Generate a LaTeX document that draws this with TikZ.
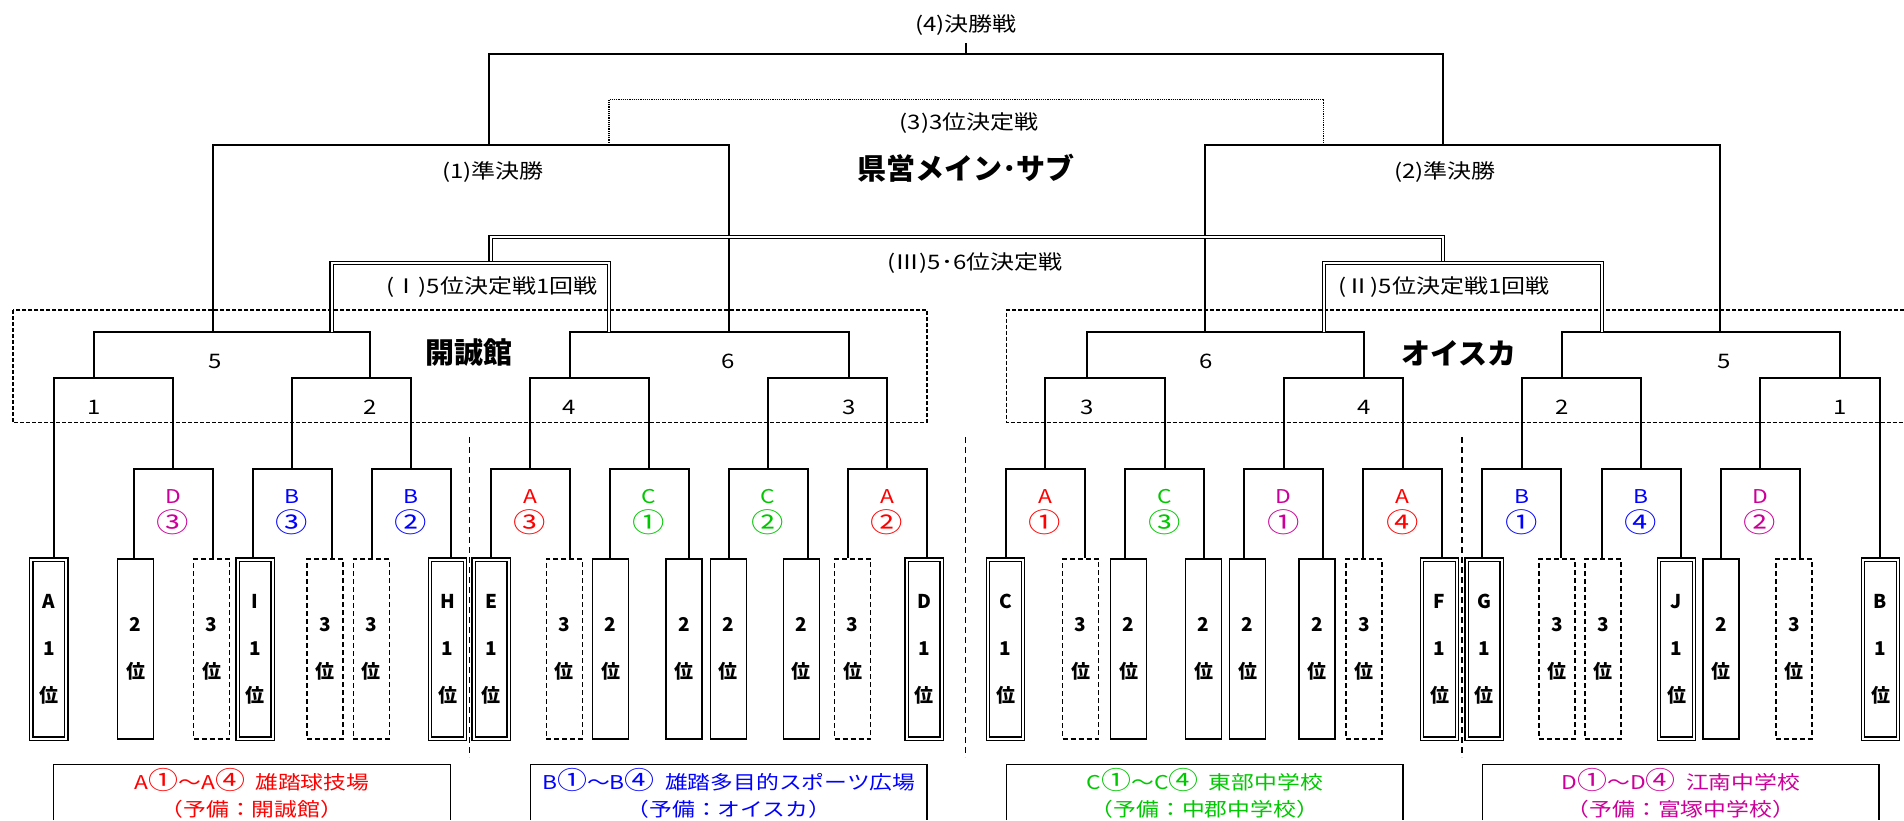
\documentclass[tikz,border=0pt]{standalone}
\usepackage{fontspec}
\usepackage{tikz}
\newfontfamily\jp[FakeStretch=1.2]{Noto Sans CJK JP}
\newfontfamily\jpbox{Noto Sans CJK JP}
\newcommand{\bigc}[1]{{\fontsize{13.5}{14.5}\selectfont#1}}
\newcommand{\midc}[1]{{\fontsize{12.5}{13.3}\selectfont#1}}
\definecolor{jred}{RGB}{255,0,0}
\definecolor{jblue}{RGB}{0,0,255}
\definecolor{jgreen}{RGB}{0,200,0}
\definecolor{jmag}{RGB}{204,0,153}

\begin{document}
\begin{tikzpicture}[x=0.5pt,y=-0.5pt]
\tikzstyle{br}=[line width=1pt]
\tikzstyle{dbl}=[double,double distance=1pt,line width=0.6pt]
\tikzstyle{venue}=[line width=0.75pt,dash pattern=on 2pt off 1pt]
\tikzstyle{sepline}=[line width=0.55pt,dash pattern=on 3pt off 2pt]
\tikzstyle{boxtxt}=[inner sep=0pt,minimum width=18pt,minimum height=90pt,align=center,font=\jpbox\bfseries\fontsize{9.5}{23.5}\selectfont]
\tikzstyle{seedbox}=[boxtxt,draw,double,double distance=1pt,line width=0.65pt,minimum width=17.5pt,minimum height=89.5pt]
\tikzstyle{runnerbox}=[boxtxt,draw,line width=0.9pt]
\tikzstyle{thirdbox}=[boxtxt,draw,line width=0.8pt,dash pattern=on 2.5pt off 1.5pt]
\tikzstyle{lbl}=[inner sep=0pt,font=\jp\fontsize{10}{12}\selectfont]
\tikzstyle{slotlbl}=[inner sep=0pt,align=center,font=\jp\fontsize{9.5}{14.5}\selectfont]
\tikzstyle{venuelbl}=[inner sep=0pt,font=\jpbox\bfseries\fontsize{14.5}{16}\selectfont]
\tikzstyle{note}=[inner sep=0pt,align=center,font=\jp\fontsize{9.5}{13.3}\selectfont]

\fill[white] (0,0) rectangle (1904,820);
\useasboundingbox (0,0) rectangle (1904,820);

% boxes: 1st, 2nd and 3rd of each block
\foreach \n/\cx/\tx in {1/48.8/A, 4/255/I, 7/447.5/H, 8/491/E, 15/924.1/D, 16/1005.5/C, 23/1439.5/F, 24/1484/G, 27/1676.5/J, 30/1880.5/B}
  \node[seedbox] (b\n) at (\cx,649) {\tx\\1\\位};
\foreach \n/\cx in {2/135.5, 10/610.5, 11/684, 12/728.4, 13/801.4, 18/1128.5, 19/1203.5, 20/1247.5, 21/1317.2, 28/1721.3}
  \node[runnerbox] (b\n) at (\cx,649) {2\\位};
\foreach \n/\cx in {3/211.5, 5/325, 6/371.3, 9/564.4, 14/852.5, 17/1080.5, 22/1364, 25/1556.8, 26/1602.9, 29/1793.9}
  \node[thirdbox] (b\n) at (\cx,649) {3\\位};

% first games between boxes
\foreach \c/\l/\r/\t/\k/\col [count=\i] in {173/2/3/D/③/jmag, 292/4/5/B/③/jblue, 411/6/7/B/②/jblue, 530/8/9/A/③/jred, 649/10/11/C/①/jgreen, 768/12/13/C/②/jgreen, 887/14/15/A/②/jred, 1045/16/17/A/①/jred, 1164.5/18/19/C/③/jgreen, 1283.5/20/21/D/①/jmag, 1402.5/22/23/A/④/jred, 1521.5/24/25/B/①/jblue, 1641/26/27/B/④/jblue, 1760/28/29/D/②/jmag}
{
  \coordinate (s\i) at (\c,469);
  \coordinate (sl\i) at (\c-39.5,469);
  \coordinate (sr\i) at (\c+39.5,469);
  \draw[br] (b\l.north -| sl\i) -- (sl\i) -- (sr\i) -- (b\r.north -| sr\i);
  \node[slotlbl,text=\col] (t\i) at (\c,512) {\t\\\bigc{\k}};
}

% round 1
\foreach \a/\b/\p/\t/\la/\lb [count=\i] in {54/173/94/1/b1.north/s1, 292/411/370/2/s2/s3, 530/649/569.5/4/s4/s5, 768/887/849/3/s6/s7, 1045/1164.5/1087/3/s8/s9, 1283.5/1402.5/1364/4/s10/s11, 1521.5/1641/1562/2/s12/s13, 1760/1880/1840/1/s14/b30.north}
{
  \coordinate (ma\i) at (\a,377.7);
  \coordinate (mb\i) at (\b,377.7);
  \coordinate (mp\i) at (\p,377.7);
  \draw[br] (ma\i |- \la) -- (ma\i) -- (mb\i) -- (mb\i |- \lb);
  \node[lbl] (m\i) at (\p,407) {\t};
}

% round 2
\foreach \a/\b/\lx/\t/\j/\k [count=\i] in {94/370/215/5/1/2, 569.5/849/728/6/3/4, 1087/1364/1206/6/5/6, 1562/1840/1724/5/7/8}
{
  \coordinate (ra\i) at (\a,332.3);
  \coordinate (rb\i) at (\b,332.3);
  \draw[br] (mp\j) -- (ra\i) -- (rb\i) -- (mp\k);
  \node[lbl] (r\i) at (\lx,361.7) {\t};
}

% venues
\draw[venue] (13,310) rectangle (927,422.7);
\draw[venue] (1904,310) -- (1006.6,310) -- (1006.6,422.7) -- (1904,422.7);
\node[venuelbl] (kai) at (469,353) {開誠館};
\node[venuelbl] (oisca) at (1459,353) {オイスカ};

% semifinals
\coordinate (sf1a) at (212.5,332.3); \coordinate (sf1b) at (728.6,332.3);
\coordinate (p1a) at (212.5,145);    \coordinate (p1b) at (728.6,145);
\coordinate (sf2a) at (1204.6,332.3); \coordinate (sf2b) at (1720,332.3);
\coordinate (p2a) at (1204.6,145);   \coordinate (p2b) at (1720,145);
\draw[br] (sf1a) -- (p1a) -- (p1b) -- (sf1b);
\draw[br] (sf2a) -- (p2a) -- (p2b) -- (sf2b);
\node[lbl] (semi1) at (493,171.7) {(1)準決勝};
\node[lbl] (semi2) at (1445,171.7) {(2)準決勝};

% final and 3rd place
\coordinate (f1) at (489,145);   \coordinate (f2) at (1442.6,145);
\coordinate (fa) at (489,54.3);  \coordinate (fb) at (1442.6,54.3);
\draw[br] (f1) -- (fa) -- (fb) -- (f2);
\node[lbl] (fin) at (966,25) {(4)決勝戦};
\draw[line width=0.6pt] (fin.south |- fa) -- ++(0,-11);
\coordinate (q1) at (609,145);   \coordinate (q2) at (1323.6,145);
\coordinate (qa) at (609,99.3);  \coordinate (qb) at (1323.6,99.3);
\draw[line width=0.6pt,dash pattern=on 0.6pt off 0.5pt] (q1) -- (qa) -- (qb) -- (q2);
\node[lbl] (third) at (969,123) {(3)3位決定戦};
\node[venuelbl] (main) at (966,168) {県営メイン･サブ};

% 5th place games
\coordinate (i1) at (331.5,332.3); \coordinate (i2) at (609,332.3);
\coordinate (ia) at (331.5,262.7); \coordinate (ib) at (609,262.7);
\coordinate (im) at (490.5,262.7);
\coordinate (j1) at (1324,332.3);  \coordinate (j2) at (1602,332.3);
\coordinate (ja) at (1324,262.7);  \coordinate (jb) at (1602,262.7);
\coordinate (jm) at (1443,262.7);
\coordinate (k1) at (490.5,237);   \coordinate (k2) at (1443,237);
\draw[dbl] (im) -- (k1) -- (k2) -- (jm);
\draw[dbl] (i1) -- (ia) -- (ib) -- (i2);
\draw[dbl] (j1) -- (ja) -- (jb) -- (j2);
\node[lbl] (fifth1) at (492,287) {(Ⅰ)5位決定戦1回戦};
\node[lbl] (fifth2) at (1444,287) {(Ⅱ)5位決定戦1回戦};
\node[lbl] (fifth3) at (975,263) {(Ⅲ)5･6位決定戦};

% block separators
\foreach \x in {469.3,965.4,1462}
  \draw[sepline] (\x,437) -- (\x,757);

% grounds
\foreach \a/\b/\col/\ta/\tb [count=\i] in {53.4/450.5/jred/A\midc{①}～A\midc{④}\ \ 雄踏球技場/（予備：開誠館）, 530.7/927/jblue/B\midc{①}～B\midc{④}\ \ 雄踏多目的スポーツ広場/（予備：オイスカ）, 1006.6/1403/jgreen/C\midc{①}～C\midc{④}\ \ 東部中学校/（予備：中郡中学校）, 1482.7/1879/jmag/D\midc{①}～D\midc{④}\ \ 江南中学校/（予備：富塚中学校）}
{
  \draw[line width=0.6pt] (\a,820) -- (\a,764.3) -- (\b,764.3) -- (\b,820);
  \node[note,text=\col] (g\i) at ({(\a+\b)/2},793.3) {\ta\\\tb};
}
\end{tikzpicture}
\end{document}
